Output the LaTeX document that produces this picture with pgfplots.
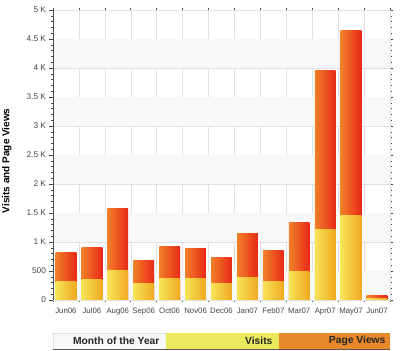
\documentclass[border=0pt]{standalone}
\usepackage{pgfplots}
\pgfplotsset{compat=1.18}
\usepackage{fontspec}
\setmainfont{Liberation Sans}
\definecolor{pvL}{HTML}{F08028}
\definecolor{pvR}{HTML}{E82818}
\definecolor{viL}{HTML}{F6E458}
\definecolor{viR}{HTML}{F0A820}
\definecolor{band}{HTML}{F8F8F8}
\definecolor{gridc}{HTML}{E0E0E0}
\definecolor{txt}{HTML}{444444}
\definecolor{legY}{HTML}{EAE95C}
\definecolor{legO}{HTML}{E8892C}
\newcommand\pv[2]{\addplot[ybar, bar width=0.8, bar shift=0pt, draw=none, left color=pvL, right color=pvR] coordinates {(#1,#2)};}
\newcommand\vi[2]{\addplot[ybar, bar width=0.8, bar shift=0pt, draw=none, left color=viL, right color=viR] coordinates {(#1,#2)};}
\begin{document}
\begin{tikzpicture}
\begin{axis}[
  set layers,
  scale only axis,
  width=337pt, height=290pt,
  xmin=-0.5, xmax=12.5, ymin=0, ymax=5000,
  xtick={0,...,12},
  xticklabels={Jun06,Jul06,Aug06,Sep06,Oct06,Nov06,Dec06,Jan07,Feb07,Mar07,Apr07,May07,Jun07},
  minor xtick={-0.5,0.5,...,12.5},
  ytick={0,500,...,5000},
  yticklabels={0,500,1 K,1.5 K,2 K,2.5 K,3 K,3.5 K,4 K,4.5 K,5 K},
  minor y tick num=4,
  tick align=outside,
  major x tick style={draw=none},
  minor x tick style={black!70, line width=0.6pt},
  major y tick style={txt, line width=0.4pt},
  minor y tick style={txt, line width=0.3pt},
  major tick length=3.5pt,
  minor tick length=2pt,
  xmajorgrids=false, xminorgrids=true, ymajorgrids=true,
  grid style={gridc, line width=0.5pt},
  minor grid style={gridc, line width=0.5pt},
  axis line style={gridc},
  yticklabel style={font=\fontsize{8.3}{9}\selectfont, text=txt},
  xticklabel style={font=\fontsize{7.8}{9}\selectfont, text=txt, yshift=-1pt},
  /pgf/number format/assume math mode=true,
  ylabel={\bfseries Visits and Page Views},
  ylabel style={font=\fontsize{10}{11}\selectfont, at={(rel axis cs:-0.113,0.48)}},
]
\pgfplotsinvokeforeach{0,1000,2000,3000,4000}{
  \fill[band, on layer=axis background] (axis cs:-0.5,#1) rectangle (axis cs:12.5,#1+500);
}
% Page views
\pv{0}{822}\pv{1}{902}\pv{2}{1574}\pv{3}{684}\pv{4}{914}\pv{5}{885}\pv{6}{736}
\pv{7}{1138}\pv{8}{857}\pv{9}{1328}\pv{10}{3960}\pv{11}{4638}\pv{12}{81}
% Visits
\vi{0}{316}\vi{1}{345}\vi{2}{505}\vi{3}{276}\vi{4}{379}\vi{5}{379}\vi{6}{288}
\vi{7}{391}\vi{8}{316}\vi{9}{495}\vi{10}{1219}\vi{11}{1453}\vi{12}{25}
\draw[black!70, line width=0.6pt] (rel axis cs:0,1) -- (rel axis cs:0,0) -- (rel axis cs:1,0);
\end{axis}
% legend strip
\fill[band] (0pt,-33pt) rectangle (113pt,-49pt);
\draw[gridc] (0pt,-49pt) -- (0pt,-33pt) -- (113pt,-33pt);
\fill[legY] (113pt,-33pt) rectangle (226pt,-49pt);
\fill[legO] (226pt,-33pt) rectangle (337pt,-49pt);
\draw[black!65, line width=1pt] (0pt,-49.5pt) -- (337pt,-49.5pt);
\node[anchor=east, font=\fontsize{10.3}{11}\selectfont\bfseries, text=black!85] at (110pt,-41pt) {Month of the Year};
\node[anchor=east, font=\fontsize{10.3}{11}\selectfont\bfseries, text=black!85] at (223pt,-41pt) {Visits};
\node[anchor=east, font=\fontsize{10.3}{11}\selectfont\bfseries, text=black!85] at (336pt,-41pt) {Page Views};
\pgfresetboundingbox
\path[use as bounding box] (-53pt,-51pt) rectangle (347pt,300pt);
\end{tikzpicture}
\end{document}
